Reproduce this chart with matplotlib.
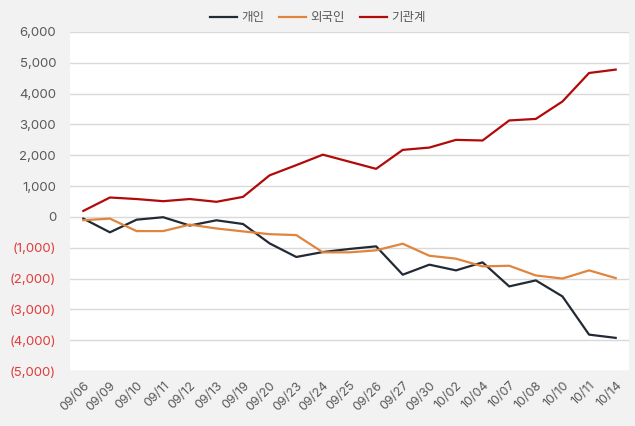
import matplotlib.pyplot as plt
from matplotlib.ticker import FuncFormatter

plt.rcParams['font.family'] = ['Inter', 'Noto Sans CJK KR', 'DejaVu Sans']

# 날짜와 누적 순매수 데이터
dates = ['09/06', '09/09', '09/10', '09/11', '09/12', '09/13', '09/19', '09/20',
         '09/23', '09/24', '09/25', '09/26', '09/27', '09/30', '10/02', '10/04',
         '10/07', '10/08', '10/10', '10/11', '10/14']
individual = [-55, -500, -90, -10, -280, -110, -230, -860, -1300, -1140, -1040,
              -955, -1875, -1550, -1735, -1475, -2255, -2060, -2580, -3820, -3925]
foreign = [-107, -55, -460, -460, -250, -375, -470, -560, -590, -1150, -1150,
           -1085, -870, -1260, -1355, -1605, -1585, -1900, -2000, -1735, -1985]
institution = [195, 630, 580, 510, 580, 490, 650, 1350, 1680, 2020, 1790,
               1560, 2175, 2250, 2500, 2480, 3130, 3180, 3745, 4670, 4780]

fig = plt.figure(figsize=(6.35, 4.26), dpi=100, facecolor='#f2f2f2')
ax = fig.add_axes([70/635, 1-371/426, (629-70)/635, (371-32)/426])
ax.set_facecolor('white')

x = range(len(dates))
ax.plot(x, individual, color='#222a35', lw=1.6, label='개인')
ax.plot(x, foreign, color='#e0853d', lw=1.6, label='외국인')
ax.plot(x, institution, color='#b20a0a', lw=1.6, label='기관계')

ax.set_xlim(-0.5, len(dates) - 0.5)
ax.set_ylim(-5000, 6000)
ax.set_yticks(range(-5000, 6001, 1000))
ax.yaxis.set_major_formatter(FuncFormatter(
    lambda v, p: f'({abs(int(v)):,})' if v < 0 else f'{int(v):,}'))
ax.set_xticks(list(x))
ax.set_xticklabels(dates, rotation=45, ha='right', rotation_mode='anchor')

ax.grid(axis='y', color='#d9d9d9', lw=1)
ax.set_axisbelow(True)
for s in ax.spines.values():
    s.set_visible(False)
ax.tick_params(length=0, labelsize=9.5, colors='#595959')
ax.tick_params(axis='y', pad=10)
ax.tick_params(axis='x', pad=6, labelsize=9)
for lbl, v in zip(ax.get_yticklabels(), ax.get_yticks()):
    if v < 0:
        lbl.set_color('#e03c3c')

leg = fig.legend(*ax.get_legend_handles_labels(), loc='center',
                 bbox_to_anchor=(0.5, 1 - 18/426), ncol=3, frameon=False,
                 fontsize=9, handlelength=2.2, handletextpad=0.3,
                 columnspacing=1.2)
for t in leg.get_texts():
    t.set_color('#595959')

plt.savefig('out.png', dpi=100, facecolor=fig.get_facecolor())
